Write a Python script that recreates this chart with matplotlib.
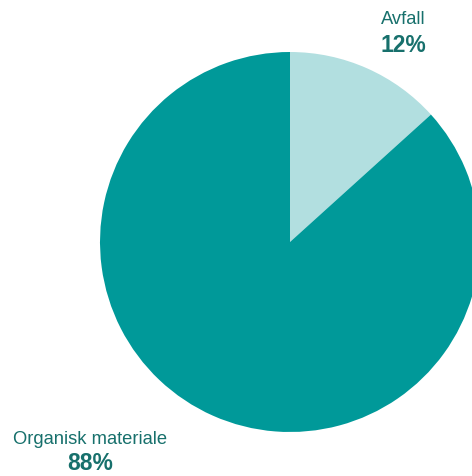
import matplotlib
matplotlib.use("Agg")
import matplotlib.pyplot as plt

# slices, drawn clockwise from 12 o'clock
# wedge sizes as measured from the drawn angles; printed labels as shown
labels = ["Avfall", "Organisk materiale"]
shares = [13.3, 86.7]
pct_labels = ["12%", "88%"]
COLORS = ["#b2dfe0", "#009999"]
TEXT = "#17706c"

plt.rcParams["font.family"] = ["Liberation Sans", "DejaVu Sans"]

W, H = 472, 476
fig = plt.figure(figsize=(W / 100, H / 100), dpi=100)
ax = fig.add_axes([0, 0, 1, 1])

# work in pixel units (y up), pie centre at (290, 242) from the top
ax.pie(shares, colors=COLORS, startangle=90, counterclock=False,
       center=(290, H - 242), radius=190,
       wedgeprops=dict(linewidth=0))
ax.set_xlim(0, W); ax.set_ylim(0, H)
ax.set_aspect("equal")
ax.axis("off")

# label positions in pixel coords (from top)
label_pos = [(403, 20), (90, 439)]
pct_pos = [(403, 45), (90, 463)]
for name, pct, (lx, ly), (px, py) in zip(labels, pct_labels, label_pos, pct_pos):
    ax.text(lx, H - ly, name, ha="center", va="center", fontsize=13.2, color=TEXT)
    ax.text(px, H - py, pct, ha="center", va="center", fontsize=16.5,
            fontweight="bold", color=TEXT)

plt.savefig("out.png", dpi=100)
